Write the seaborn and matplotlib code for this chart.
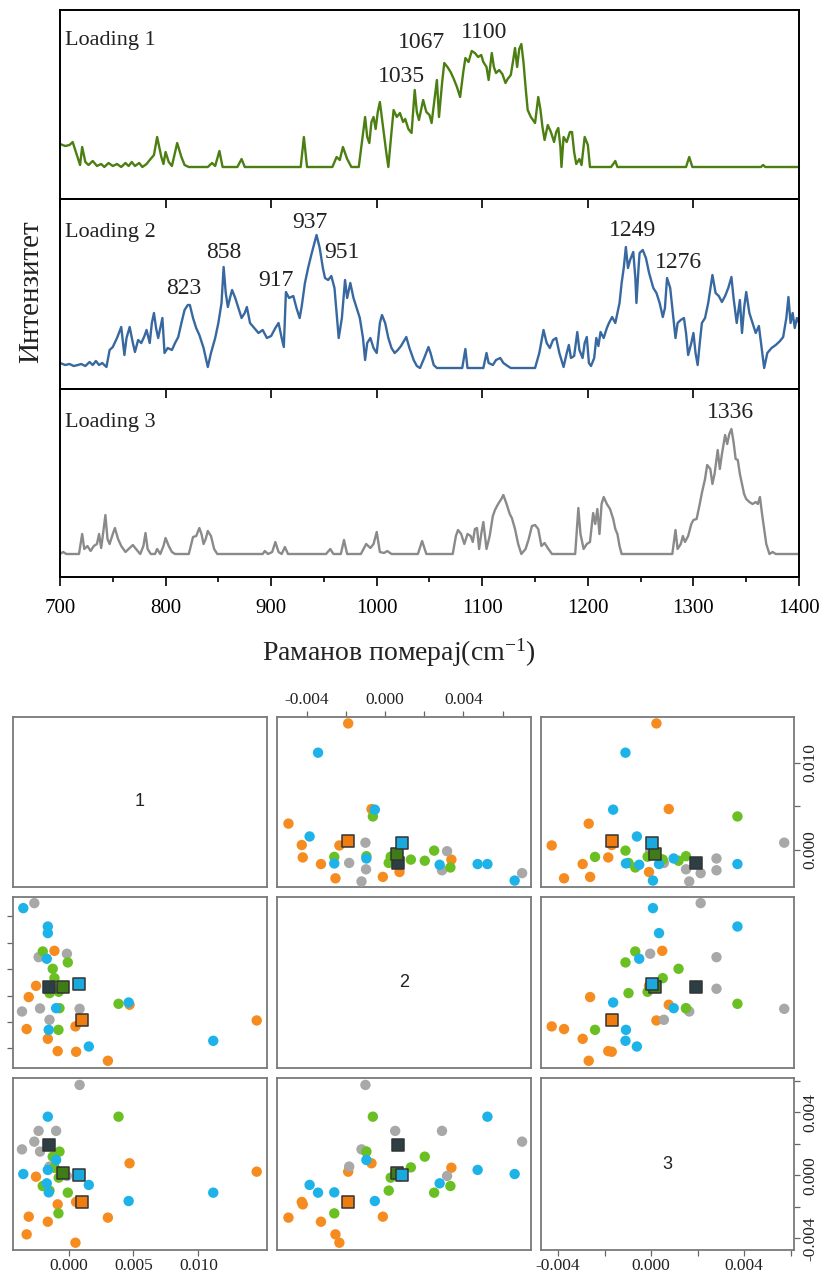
import numpy as np
import pandas as pd
import matplotlib
matplotlib.use("Agg")
import matplotlib.pyplot as plt
import seaborn as sns

# ---------------- Loading spectra ----------------
wn1 = [700, 705, 709, 712, 716, 719, 721, 724, 727, 731, 735, 739, 742, 746, 750, 754, 758, 762, 765, 768,
       771, 775, 778, 782, 785, 789, 792, 796, 798, 800, 803, 806, 811, 815, 818, 822, 840, 844, 847, 851,
       854, 868, 872, 875, 928, 931, 934, 958, 962, 965, 968, 972, 976, 983, 986, 989, 991, 993, 995, 997,
       999, 1001, 1003, 1006, 1009, 1011, 1014, 1016, 1019, 1022, 1025, 1027, 1030, 1033, 1036, 1038, 1040,
       1044, 1047, 1050, 1052, 1055, 1057, 1059, 1062, 1064, 1067, 1070, 1073, 1076, 1079, 1082, 1084, 1087,
       1090, 1093, 1096, 1099, 1101, 1104, 1106, 1109, 1111, 1113, 1116, 1119, 1122, 1124, 1127, 1129, 1131,
       1133, 1135, 1137, 1139, 1141, 1143, 1146, 1150, 1153, 1155, 1157, 1159, 1162, 1165, 1168, 1170, 1172,
       1174, 1175, 1177, 1180, 1183, 1185, 1187, 1189, 1192, 1194, 1197, 1200, 1202, 1222, 1224, 1226, 1228,
       1293, 1296, 1299, 1364, 1366, 1368, 1400]
int1 = [23, 21, 22, 25, 12, 2, 20, 5, 2, 6, 1, 3, 0, 4, 1, 3, 0, 4, 1, 5,
        1, 4, 0, 3, 7, 12, 30, 10, 3, 15, 5, 1, 24, 10, 2, 0, 0, 4, 1, 16,
        0, 0, 8, 0, 0, 30, 0, 0, 10, 7, 20, 8, 0, 0, 25, 50, 30, 24, 45, 50,
        38, 55, 65, 40, 15, 0, 35, 57, 50, 54, 45, 48, 38, 34, 77, 55, 47,
        67, 55, 52, 44, 70, 87, 50, 85, 104, 100, 95, 88, 80, 70, 95, 109, 105,
        116, 114, 110, 112, 105, 100, 87, 114, 100, 94, 97, 93, 84, 88, 92, 105, 119,
        100, 118, 123, 105, 80, 57, 50, 44, 70, 58, 40, 27, 42, 35, 25, 35, 39,
        20, 0, 30, 25, 35, 35, 15, 3, 8, 2, 30, 22, 0, 0, 3, 6, 0,
        0, 10, 0, 0, 2, 0, 0]

wn2 = [700, 705, 709, 713, 717, 720, 724, 728, 731, 734, 737, 740, 744, 747, 750, 754, 758, 761, 763, 766,
       769, 771, 774, 777, 780, 782, 785, 787, 789, 791, 793, 797, 799, 802, 806, 809, 812, 815, 818, 821,
       823, 826, 829, 832, 836, 840, 843, 847, 850, 853, 855, 857, 859, 861, 863, 866, 869, 872, 875, 877,
       880, 884, 888, 892, 896, 900, 904, 907, 910, 912, 914, 917, 921, 924, 927, 929, 932, 935, 938, 941,
       943, 946, 949, 951, 954, 957, 960, 962, 964, 967, 970, 972, 975, 978, 981, 984, 987, 989, 991, 994,
       997, 1000, 1003, 1005, 1008, 1011, 1014, 1017, 1020, 1023, 1028, 1031, 1035, 1038, 1041, 1045, 1049,
       1051, 1054, 1057, 1081, 1084, 1086, 1101, 1104, 1106, 1110, 1113, 1117, 1120, 1124, 1127, 1150, 1154,
       1158, 1161, 1164, 1167, 1170, 1173, 1177, 1180, 1182, 1184, 1187, 1190, 1192, 1195, 1197, 1199, 1201,
       1203, 1206, 1208, 1210, 1212, 1215, 1218, 1220, 1223, 1226, 1228, 1230, 1232, 1234, 1236, 1238, 1240,
       1243, 1245, 1246, 1248, 1249, 1252, 1255, 1258, 1262, 1265, 1268, 1271, 1273, 1275, 1278, 1280, 1283,
       1285, 1288, 1291, 1293, 1295, 1298, 1300, 1302, 1304, 1306, 1308, 1311, 1314, 1318, 1321, 1324, 1327,
       1330, 1333, 1336, 1338, 1341, 1344, 1346, 1348, 1350, 1353, 1356, 1359, 1362, 1364, 1367, 1370, 1374,
       1378, 1382, 1385, 1388, 1390, 1392, 1394, 1396, 1398, 1400]
int2 = [5, 3, 4, 2, 3, 4, 2, 6, 3, 7, 3, 5, 1, 18, 21, 30, 41, 13, 30, 41,
        25, 16, 28, 25, 32, 38, 25, 45, 55, 40, 30, 50, 15, 20, 18, 25, 31, 45, 58, 63,
        63, 50, 40, 33, 20, 1, 15, 30, 45, 65, 101, 75, 61, 70, 78, 70, 60, 50, 55, 61,
        45, 40, 35, 38, 30, 32, 40, 45, 30, 21, 76, 70, 72, 60, 50, 62, 85, 100, 113, 125,
        133, 120, 100, 90, 88, 92, 80, 55, 30, 50, 88, 70, 85, 70, 60, 50, 30, 8, 25, 30,
        20, 15, 45, 53, 45, 30, 20, 15, 18, 22, 31, 20, 8, 2, 0, 10, 21,
        15, 3, 0, 0, 19, 0, 0, 15, 5, 3, 8, 10, 5, 2, 0, 0, 15,
        38, 25, 20, 28, 30, 15, 1, 15, 23, 10, 12, 36, 18, 10, 25, 31, 5,
        2, 10, 30, 22, 36, 30, 40, 45, 51, 45, 55, 65, 85, 100, 121, 100, 108,
        116, 90, 65, 100, 115, 118, 110, 95, 80, 75, 65, 51, 60, 90, 80, 60, 30,
        45, 48, 50, 35, 13, 25, 35, 15, 3, 25, 45, 50, 65, 93, 75, 72, 66,
        72, 80, 91, 70, 45, 68, 35, 60, 76, 55, 45, 35, 42, 25, 0, 15, 20,
        23, 27, 31, 50, 71, 45, 55, 40, 50, 45]

wn3 = [700, 703, 706, 718, 721, 723, 726, 729, 732, 735, 737, 739, 741, 743, 745, 747, 750, 752, 755, 758,
       762, 765, 769, 772, 776, 779, 781, 783, 786, 790, 792, 795, 798, 800, 803, 806, 809, 822, 826, 829,
       832, 834, 836, 838, 840, 843, 846, 849, 892, 894, 897, 901, 904, 907, 910, 913, 916, 952, 956, 959,
       966, 969, 972, 985, 990, 994, 997, 1000, 1003, 1007, 1010, 1014, 1039, 1043, 1047, 1072, 1075, 1077,
       1080, 1083, 1086, 1089, 1091, 1093, 1095, 1097, 1099, 1101, 1104, 1107, 1110, 1112, 1115, 1118, 1120,
       1123, 1126, 1128, 1131, 1134, 1137, 1141, 1144, 1147, 1150, 1153, 1156, 1159, 1162, 1166, 1188, 1191,
       1193, 1196, 1199, 1202, 1205, 1207, 1209, 1211, 1213, 1215, 1218, 1221, 1224, 1226, 1228, 1230, 1232,
       1280, 1283, 1285, 1288, 1290, 1292, 1295, 1298, 1300, 1303, 1306, 1308, 1311, 1313, 1316, 1318, 1320,
       1323, 1325, 1327, 1330, 1332, 1334, 1336, 1338, 1340, 1342, 1344, 1346, 1348, 1350, 1353, 1356, 1359,
       1361, 1363, 1365, 1367, 1369, 1372, 1375, 1378, 1400]
int3 = [0, 2, 0, 0, 20, 5, 8, 3, 8, 10, 20, 6, 22, 39, 15, 10, 20, 26, 15, 8,
        2, 5, 9, 5, 0, 8, 21, 5, 0, 0, 5, 0, 8, 16, 8, 2, 0, 0, 17, 18,
        26, 20, 10, 15, 23, 18, 5, 0, 0, 3, 0, 2, 12, 2, 0, 7, 0, 0, 5, 0,
        0, 14, 0, 0, 10, 6, 10, 22, 2, 1, 3, 0, 0, 13, 0, 0, 18, 24,
        20, 10, 20, 18, 12, 25, 26, 5, 20, 32, 5, 18, 38, 44, 50, 55, 59,
        50, 40, 36, 25, 10, 0, 5, 15, 28, 29, 25, 8, 11, 6, 0, 0, 46,
        20, 5, 10, 12, 41, 30, 45, 20, 50, 57, 50, 45, 35, 25, 20, 8, 0,
        0, 24, 5, 10, 18, 12, 18, 30, 34, 35, 50, 61, 75, 89, 85, 70, 80,
        104, 85, 100, 119, 110, 120, 125, 112, 95, 94, 80, 70, 60, 55, 52, 50, 52,
        50, 57, 40, 25, 10, 0, 2, 0, 0]

loading_names = ["Loading 1", "Loading 2", "Loading 3"]
peak_labels_1 = ["1035", "1067", "1100"]
peak_pos_1 = [(1023, 90), (1042, 125), (1102, 135)]
peak_labels_2 = ["823", "858", "917", "937", "951", "1249", "1276"]
peak_pos_2 = [(817, 80), (855, 116), (905, 88), (937, 146), (967, 115), (1242, 138), (1286, 105)]
peak_labels_3 = ["1336"]
peak_pos_3 = [(1335, 142)]
x_ticks_top = [700, 800, 900, 1000, 1100, 1200, 1300, 1400]

# ---------------- PCA scores ----------------
grp_gray = ["gray"] * 8
pc1_gray = [0.00085, -0.00231, -0.00096, -0.00264, -0.00359, -0.00220, -0.00147, -0.00013]
pc2_gray = [-0.00100, 0.00291, 0.00052, 0.00700, -0.00120, -0.00097, -0.00183, 0.00317]
pc3_gray = [0.00572, 0.00281, 0.00281, 0.00213, 0.00164, 0.00150, 0.00055, -0.00004]

grp_blue = ["blue"] * 9
pc1_blue = [-0.00160, -0.00349, 0.01115, 0.00463, 0.00156, -0.00096, -0.00160, -0.00168, -0.00153]
pc2_blue = [0.00523, 0.00662, -0.00342, -0.00052, -0.00385, -0.00095, 0.00473, 0.00279, -0.00259]
pc3_blue = [0.00371, 0.00008, -0.00110, -0.00163, -0.00061, 0.00097, 0.00034, -0.00051, -0.00108]

grp_green = ["green"] * 9
pc1_green = [0.00385, -0.00078, -0.00070, -0.00122, -0.00199, -0.00006, -0.00076, -0.00109, -0.00147]
pc2_green = [-0.00062, -0.00259, -0.00095, 0.00203, 0.00334, 0.00251, 0.00029, 0.00132, 0.00019]
pc3_green = [0.00371, -0.00241, 0.00150, 0.00118, -0.00068, -0.00110, -0.00015, 0.00050, -0.00097]

grp_orange = ["orange"] * 11
pc1_orange = [-0.00109, -0.00251, -0.00307, 0.00470, 0.01450, 0.00053, -0.00323, -0.00160, -0.00084, 0.00058, 0.00303]
pc2_orange = [0.00339, 0.00074, -0.00011, -0.00069, -0.00188, -0.00233, -0.00253, -0.00327, -0.00420, -0.00425, -0.00493]
pc3_orange = [0.00048, -0.00009, -0.00262, 0.00076, 0.00023, -0.00427, -0.00374, -0.00294, -0.00184, -0.00169, -0.00268]

# group centroids (squares)
cen_group = ["orange", "gray", "green", "blue"]
cen_pc1 = [0.00105, -0.00153, -0.00045, 0.00077]
cen_pc2 = [-0.00188, 0.00064, 0.00062, 0.00087]
cen_pc3 = [-0.00169, 0.00192, 0.00017, 0.00002]

# ---------------- styling ----------------
sns.set_theme(style="white")
plt.rcParams['font.family'] = ['Liberation Serif', 'DejaVu Serif']
plt.rcParams['mathtext.fontset'] = 'custom'
plt.rcParams['mathtext.rm'] = 'Liberation Serif'
plt.rcParams['mathtext.it'] = 'Liberation Serif:italic'
plt.rcParams['axes.unicode_minus'] = False

W, H = 824, 1272
fig = plt.figure(figsize=(W / 100, H / 100), dpi=100)
fig.patch.set_facecolor("white")


def rect(l, t, r, b):
    return [l / W, 1 - b / H, (r - l) / W, (b - t) / H]


line_colors = ["#4c7f12", "#3868a0", "#8a8a8a"]
panel_px = [(9.5, 199), (199, 388.5), (388.5, 577)]
ylims = [(-32, 157.5), (-20.5, 169), (-23, 165.5)]
spectra = [(wn1, int1), (wn2, int2), (wn3, int3)]
peaks = [(peak_labels_1, peak_pos_1), (peak_labels_2, peak_pos_2), (peak_labels_3, peak_pos_3)]

for k in range(3):
    t, b = panel_px[k]
    ax = fig.add_axes(rect(60, t, 799, b))
    ax.set_facecolor("none")
    wn, iv = spectra[k]
    sns.lineplot(x=wn, y=iv, ax=ax, color=line_colors[k], linewidth=1.7,
                 estimator=None, sort=False, legend=False)
    ax.set_xlim(700, 1400)
    ax.set_ylim(*ylims[k])
    ax.set_yticks([])
    ax.set_ylabel("")
    ax.set_xlabel("")
    for s in ax.spines.values():
        s.set_color("black")
        s.set_linewidth(1.4)
    ax.set_xticks(x_ticks_top)
    ax.tick_params(axis="x", which="major", direction="out", length=6.5, width=1.2,
                   color="black", bottom=True, top=False, labelbottom=(k == 2),
                   labelsize=15, pad=9, labelcolor="black")
    if k == 2:
        ax.set_xticks([750, 850, 950, 1050, 1150, 1250, 1350], minor=True)
        ax.tick_params(axis="x", which="minor", direction="out", length=3.5, width=1.2,
                       color="black", bottom=True)
    ax.text(704.5, [127, 135, 132][k], loading_names[k], fontsize=16, ha="left",
            va="center", color="#222222")
    labs, pos = peaks[k]
    for lab, (px, py) in zip(labs, pos):
        ax.text(px, py, lab, fontsize=17, ha="center", va="center", color="#222222")

fig.text(31 / W, 1 - 292 / H, "Интензитет", rotation=90, fontsize=21,
         ha="center", va="center", color="#222222")
fig.text(399 / W, 1 - 653 / H, "Раманов померај(cm$^{-1}$)", fontsize=20,
         ha="center", va="center", color="#222222")

# ---------------- scatter matrix ----------------
df = pd.DataFrame({
    "group": grp_orange + grp_gray + grp_green + grp_blue,
    "PC1": pc1_orange + pc1_gray + pc1_green + pc1_blue,
    "PC2": pc2_orange + pc2_gray + pc2_green + pc2_blue,
    "PC3": pc3_orange + pc3_gray + pc3_green + pc3_blue,
})
cen = pd.DataFrame({"group": cen_group, "PC1": cen_pc1, "PC2": cen_pc2, "PC3": cen_pc3})

pt_colors = {"orange": "#f68b1f", "gray": "#a8a8a8", "green": "#6ac023", "blue": "#1eb3e8"}
sq_colors = {"orange": "#f07c10", "gray": "#2c3f45", "green": "#3f7b17", "blue": "#19a9de"}

vars_ = ["PC1", "PC2", "PC3"]
lims = {"PC1": (-0.00426, 0.01527), "PC2": (-0.0055, 0.00744), "PC3": (-0.00473, 0.00614)}
ticks = {"PC1": [0.0, 0.005, 0.010],
         "PC2": [-0.004, -0.002, 0.0, 0.002, 0.004, 0.006],
         "PC3": [-0.004, -0.002, 0.0, 0.002, 0.004, 0.006]}
shown = {"PC1": [0.0, 0.005, 0.010], "PC2": [-0.004, 0.0, 0.004], "PC3": [-0.004, 0.0, 0.004]}
shown_right_pc1 = [0.0, 0.010]

cols = [(13.3, 266.7), (277.3, 530.7), (541, 794)]
rows = [(716.7, 887.3), (897.3, 1068.3), (1078.3, 1250)]
spine_c = "#7a7a7a"
tick_fs = 12.5


def fmt(v):
    return f"{v:.3f}"


def labels_for(vals, allowed):
    return [fmt(v) if any(abs(v - a) < 1e-9 for a in allowed) else "" for v in vals]


for i in range(3):
    for j in range(3):
        ax = fig.add_axes(rect(cols[j][0], rows[i][0], cols[j][1], rows[i][1]))
        ax.set_facecolor("white")
        xv, yv = vars_[j], vars_[i]
        ax.set_xlim(*lims[xv])
        ax.set_ylim(*lims[yv])
        if i == j:
            ax.text(0.5, 0.5, str(i + 1), transform=ax.transAxes, ha="center", va="center",
                    fontsize=13, family=["Liberation Sans", "DejaVu Sans"], color="#222222")
        else:
            for g in ["orange", "gray", "green", "blue"]:
                sub = df[df["group"] == g]
                sns.scatterplot(data=sub, x=xv, y=yv, ax=ax, color=pt_colors[g], s=56,
                                edgecolor="none", linewidth=0, legend=False, zorder=3)
            for g in ["orange", "gray", "green", "blue"]:
                sub = cen[cen["group"] == g]
                sns.scatterplot(data=sub, x=xv, y=yv, ax=ax, color=sq_colors[g], s=80,
                                marker="s", edgecolor="#333333", linewidth=1.1,
                                legend=False, zorder=4)
        ax.set_xlabel("")
        ax.set_ylabel("")
        for s in ax.spines.values():
            s.set_color(spine_c)
            s.set_linewidth(1.3)
        ax.set_xticks([])
        ax.set_yticks([])
        tp = dict(direction="out", length=4, width=0.9, color="#666666",
                  labelsize=tick_fs, labelcolor="#222222", pad=2)
        if i == 0 and j == 1:
            ax.set_xticks(ticks[xv])
            ax.set_xticklabels(labels_for(ticks[xv], shown[xv]))
            ax.xaxis.tick_top()
            ax.tick_params(axis="x", **tp)
        if i == 2 and j in (0, 2):
            ax.set_xticks(ticks[xv])
            ax.set_xticklabels(labels_for(ticks[xv], shown[xv]))
            ax.tick_params(axis="x", bottom=True, **tp)
        if j == 0 and i == 1:
            ax.set_yticks(ticks[yv])
            ax.set_yticklabels(labels_for(ticks[yv], shown[yv]))
            tpl = dict(tp)
            tpl["pad"] = 4
            ax.tick_params(axis="y", left=True, **tpl)
            for lab in ax.get_yticklabels():
                lab.set_rotation(90)
                lab.set_va("center")
                lab.set_ha("right")
        if j == 2 and i in (0, 2):
            ax.set_yticks(ticks[yv])
            allowed = shown_right_pc1 if yv == "PC1" else shown[yv]
            ax.set_yticklabels(labels_for(ticks[yv], allowed))
            ax.yaxis.tick_right()
            ax.tick_params(axis="y", right=True, left=False, **tp)
            for lab in ax.get_yticklabels():
                lab.set_rotation(90)
                lab.set_va("center")
                lab.set_ha("left")

fig.savefig("out.png", dpi=100, facecolor="white")
